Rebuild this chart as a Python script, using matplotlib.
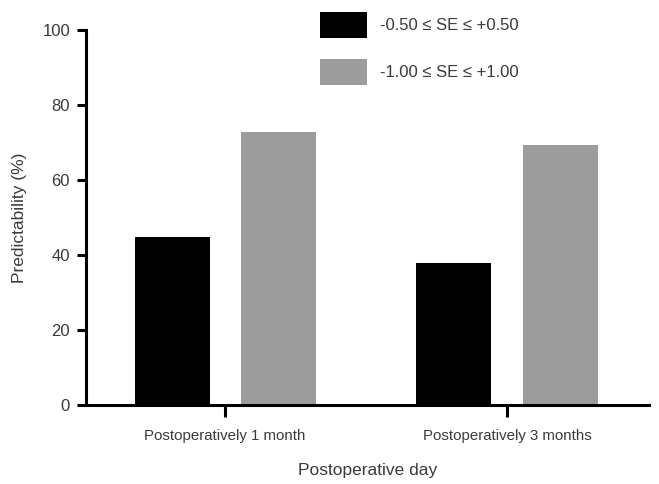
import numpy as numpy
import matplotlib
matplotlib.use('Agg')
import matplotlib.pyplot as plt

categories = ['Postoperatively 1 month', 'Postoperatively 3 months']
within_050 = [44.9, 38.0]
within_100 = [72.7, 69.4]
series_labels = ['-0.50 \u2264 SE \u2264 +0.50', '-1.00 \u2264 SE \u2264 +1.00']
y_ticks = [0, 20, 40, 60, 80, 100]

plt.rcParams['font.family'] = ['Liberation Sans', 'DejaVu Sans']

TEXT = '#3a3a3a'

def main():
    fig = plt.figure(figsize=(6.59, 4.84), dpi=100)
    ax = fig.add_axes([0.1305, 0.1632, 0.8545, 0.7748])

    x = numpy.arange(len(categories))
    width = 0.266
    offset = 0.188
    ax.bar(x - offset, within_050, width, color='black', label=series_labels[0])
    ax.bar(x + offset, within_100, width, color='#9c9c9c', label=series_labels[1])

    ax.set_xlim(-0.493, 1.504)
    ax.set_ylim(0, 100)
    ax.set_yticks(y_ticks)
    ax.set_xticks(x)
    ax.set_xticklabels(categories)

    for side in ['top', 'right']:
        ax.spines[side].set_visible(False)
    for side in ['left', 'bottom']:
        ax.spines[side].set_linewidth(2.2)
    ax.tick_params(axis='x', length=8.5, width=2.2, pad=9, labelsize=10.8, labelcolor=TEXT)
    ax.tick_params(axis='y', length=6.5, width=2.2, pad=5, labelsize=12, labelcolor=TEXT)

    ax.set_ylabel('Predictability (%)', fontsize=12.5, color=TEXT, labelpad=11)
    ax.set_xlabel('Postoperative day', fontsize=12.5, color=TEXT, labelpad=14)

    fig.legend(loc='upper left', bbox_to_anchor=(0.4856, 0.975), frameon=False,
               fontsize=12, handlelength=2.82, handleheight=2.0, handletextpad=0.78,
               labelspacing=1.28, borderpad=0, borderaxespad=0, labelcolor=TEXT)

    fig.savefig('out.png', dpi=100)

if (__name__ == "__main__"):
    main()
